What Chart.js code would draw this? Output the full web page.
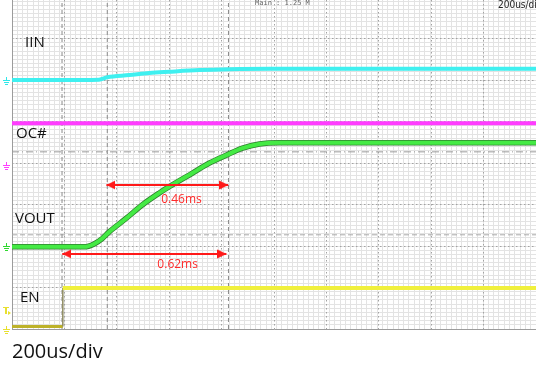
<!DOCTYPE html>
<html>
<head>
<meta charset="utf-8">
<script src="https://cdn.jsdelivr.net/npm/chart.js@4.4.1/dist/chart.umd.min.js"></script>
<style>
  html, body { margin: 0; padding: 0; background: #fff; }
  #wrap { position: relative; width: 536px; height: 365px; overflow: hidden; }
</style>
</head>
<body>
<div id="wrap"><canvas id="scope" width="536" height="365"></canvas></div>
<script>
// time in us from the left graticule edge, 200 us per division
const T_MAX = 1980;
// vertical position in screen divisions above the bottom graticule line
const DIV_MAX = 7.93;

const iinTime  = [0, 178, 329, 360, 443, 519, 594, 708, 822, 973, 1980];
const iinLevel = [6.00, 6.00, 6.01, 6.07, 6.12, 6.17, 6.20, 6.24, 6.26, 6.27, 6.27];

const ocTime  = [0, 1980];
const ocLevel = [4.96, 4.96];

const voutTime  = [0, 273, 310, 341, 367, 432, 492, 557, 594, 682, 746, 810, 871, 935, 1011, 1980];
const voutLevel = [1.98, 1.98, 2.05, 2.18, 2.34, 2.67, 2.99, 3.28, 3.43, 3.76, 4.00, 4.19, 4.36, 4.46, 4.49, 4.49];

const enTime  = [0, 192, 192, 1980];
const enLevel = [0.06, 0.06, 0.99, 0.99];

// cursors
const cursorTimes  = [189, 360, 818];
const cursorLevels = [4.27, 2.27];

// measured spans (start/end in us)
const spanLabels = ['0.46ms', '0.62ms'];
const spanStart  = [357, 190];
const spanEnd    = [817, 810];
const spanLevel  = [3.47, 1.81];

// channel names and their ground reference levels
const traceNames   = ['IIN', 'OC#', 'VOUT', 'EN'];
const groundLevels = [6.0, 3.95, 2.0, 0.0];
const trigLevel    = 0.45;

const pts = (xs, ys) => xs.map((x, i) => ({ x, y: ys[i] }));

// arrowhead sprite: tip sits in the middle of the canvas so it lands on the data point
function makeArrowHead(color) {
    const c = document.createElement('canvas');
    c.width = 18; c.height = 10;
    const g = c.getContext('2d');
    g.fillStyle = color;
    g.beginPath();
    g.moveTo(9, 5);
    g.lineTo(0, 0.5);
    g.lineTo(0, 9.5);
    g.closePath();
    g.fill();
    return c;
}
const arrowHead = makeArrowHead('#ff1a1a');

const cursorSets = [
    ...cursorTimes.map(t => ({
        data: [{ x: t, y: 0 }, { x: t, y: DIV_MAX }],
        borderColor: '#8a8a8a', borderWidth: 1, borderDash: [4, 3], order: 20
    })),
    {
        data: [{ x: 0, y: cursorLevels[0] }, { x: T_MAX, y: cursorLevels[0] }],
        borderColor: '#9a9a9a', borderWidth: 1, borderDash: [7, 3, 1, 3], order: 20
    },
    {
        data: [{ x: 0, y: cursorLevels[1] }, { x: T_MAX, y: cursorLevels[1] }],
        borderColor: '#a8a8a8', borderWidth: 1, borderDash: [5, 3], order: 20
    }
];

const spanSets = spanLabels.map((lbl, i) => ({
    label: lbl,
    data: [{ x: spanStart[i], y: spanLevel[i] }, { x: spanEnd[i], y: spanLevel[i] }],
    borderColor: '#ff1a1a', borderWidth: 2, order: 0,
    pointStyle: arrowHead, pointRadius: 5, pointRotation: [180, 0]
}));

const traceSets = [
    {
        label: traceNames[0], data: pts(iinTime, iinLevel),
        borderColor: '#3ff0f0', borderWidth: 4, cubicInterpolationMode: 'monotone', order: 3
    },
    {
        label: traceNames[1], data: pts(ocTime, ocLevel),
        borderColor: '#ff3cff', borderWidth: 4, order: 3
    },
    {
        label: traceNames[2], data: pts(voutTime, voutLevel),
        borderColor: '#44ea44', borderWidth: 4, cubicInterpolationMode: 'monotone', order: 3
    },
    {
        // dark rim under VOUT
        data: pts(voutTime, voutLevel),
        borderColor: '#2f7f2f', borderWidth: 5.5, cubicInterpolationMode: 'monotone', order: 4
    },
    {
        label: traceNames[3], data: pts(enTime, enLevel),
        borderColor: '#f0f03c', borderWidth: 4, order: 3,
        segment: {
            borderColor: ctx => ctx.p0DataIndex === 0 ? '#bdb22a' : ctx.p0DataIndex === 1 ? '#8f8c62' : undefined,
            borderWidth: ctx => ctx.p0DataIndex === 1 ? 1.5 : ctx.p0DataIndex === 0 ? 3 : undefined
        }
    }
];

// fine + major graticule built from stacked linear axes
function gridAxis(axis, step, color, dash, z, showBorder) {
    return {
        type: 'linear', axis,
        position: axis === 'x' ? 'bottom' : 'left',
        min: 0, max: axis === 'x' ? T_MAX : DIV_MAX,
        ticks: { display: false, stepSize: step, maxTicksLimit: 1000, includeBounds: false },
        grid: { color, lineWidth: 1, drawTicks: false, z },
        border: { display: showBorder, color: '#9c9c9c', dash }
    };
}

function groundMark(ctx, x, y, color) {
    ctx.fillStyle = color;
    ctx.fillRect(x + 3, y - 3, 1, 3);
    ctx.fillRect(x, y, 7, 1);
    ctx.fillRect(x + 1, y + 2, 5, 1);
    ctx.fillRect(x + 2, y + 4, 3, 1);
}

const scopeText = {
    id: 'scopeText',
    beforeDraw(chart) {
        const { ctx } = chart;
        ctx.save();
        ctx.fillStyle = '#fff';
        ctx.fillRect(0, 0, chart.width, chart.height);
        ctx.restore();
    },
    afterDatasetsDraw(chart) {
        const { ctx, scales: { x, y } } = chart;
        ctx.save();
        ctx.textBaseline = 'alphabetic';

        // channel names
        ctx.font = '15px "Open Sans"';
        ctx.fillStyle = '#111';
        const namePos = [[25, 47], [16, 138], [15, 223], [20, 302]];
        traceNames.forEach((n, i) => ctx.fillText(n, namePos[i][0], namePos[i][1]));

        // span values
        ctx.font = '12px "Open Sans"';
        ctx.fillStyle = '#ff2a2a';
        const labelShift = [67, 69];
        const labelDrop = [18, 14];
        spanLabels.forEach((lbl, i) => {
            ctx.fillText(lbl, x.getPixelForValue(spanEnd[i]) - labelShift[i], y.getPixelForValue(spanLevel[i]) + labelDrop[i]);
        });

        // ground references on the left margin
        const gColors = ['#30e8e8', '#ff40ff', '#30d830', '#e8e030'];
        groundLevels.forEach((lv, i) => groundMark(ctx, 3, Math.round(y.getPixelForValue(lv)), gColors[i]));
        // trigger level marker
        const ty = Math.round(y.getPixelForValue(trigLevel));
        ctx.fillStyle = '#e8e030';
        ctx.fillRect(3, ty - 3, 6, 1);
        ctx.fillRect(5, ty - 3, 2, 7);
        ctx.beginPath();
        ctx.moveTo(8, ty + 1); ctx.lineTo(11, ty + 3); ctx.lineTo(8, ty + 5); ctx.closePath();
        ctx.fill();

        // scope status line
        ctx.font = '7px "DejaVu Sans Mono"';
        ctx.fillStyle = '#666';
        ctx.fillText('Main : 1.25 M', 255, 5);
        ctx.font = '10px "DejaVu Sans Condensed"';
        ctx.fillStyle = '#222';
        ctx.fillText('200us/div', 498, 8);

        // timebase caption
        ctx.font = '20px "Open Sans"';
        ctx.fillStyle = '#111';
        ctx.fillText('200us/div', 12, 358);
        ctx.restore();
    }
};

new Chart(document.getElementById('scope'), {
    type: 'line',
    data: { datasets: [...spanSets, ...traceSets, ...cursorSets] },
    options: {
        responsive: false,
        animation: false,
        events: [],
        layout: { autoPadding: false, padding: { left: 12, top: 0, right: 0, bottom: 36 } },
        elements: { point: { radius: 0, hoverRadius: 0 }, line: { fill: false, tension: 0 } },
        plugins: { legend: { display: false }, tooltip: { enabled: false } },
        scales: {
            x: gridAxis('x', 20, '#e3e3e3', [], -3, true),
            xMajor: gridAxis('x', 200, '#a2a2a2', [1.5, 2.5], -2, false),
            y: gridAxis('y', 0.1, '#e3e3e3', [], -3, true),
            yMajor: gridAxis('y', 1, '#a2a2a2', [1.5, 2.5], -2, false)
        }
    },
    plugins: [scopeText]
});
</script>
</body>
</html>
